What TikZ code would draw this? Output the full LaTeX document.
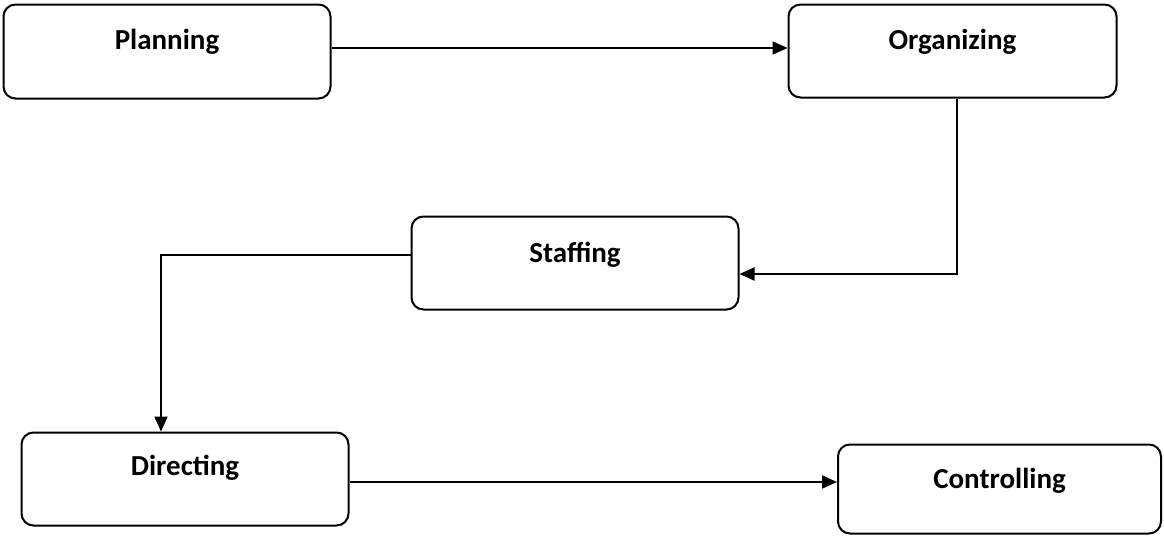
\documentclass[tikz,border=0pt]{standalone}
\usepackage{fontspec}
\setmainfont{Carlito}
\usetikzlibrary{arrows.meta,calc}
\tikzset{
  box/.style={draw=black, line width=2pt, rounded corners=12pt, fill=white, inner sep=0pt},
  lbl/.style={anchor=base, font=\fontsize{29}{32}\selectfont\bfseries, inner sep=0pt},
  conn/.style={line width=2pt, -{Triangle[length=15pt,width=13pt]}}
}
\begin{document}
\begin{tikzpicture}[x=1pt,y=-1pt]
\useasboundingbox (0,0) rectangle (1164,536);
% boxes
\node[box, minimum width=327pt, minimum height=94pt] (plan) at (167,51.5) {};
\node[box, minimum width=328pt, minimum height=93pt] (org) at (952.5,51) {};
\node[box, minimum width=327pt, minimum height=93pt] (staff) at (575,263) {};
\node[box, minimum width=327pt, minimum height=93pt] (dir) at (185,479) {};
\node[box, minimum width=323pt, minimum height=89pt] (ctrl) at (999.5,489) {};
% labels
\node[lbl] (planT) at ($(plan.north)+(0,46)$) {Planning};
\node[lbl] (orgT) at ($(org.north)+(0,46)$) {Organizing};
\node[lbl] (staffT) at ($(staff.north)+(0,47)$) {Staffing};
\node[lbl] (dirT) at ($(dir.north)+(0,44)$) {Directing};
\node[lbl] (ctrlT) at ($(ctrl.north)+(0,45)$) {Controlling};
% helper coordinates
\coordinate (c1) at (957,274);
\coordinate (c2) at (161,255);
% connectors
\draw[conn] (plan.east |- 0,48) -- (org.west |- 0,48);
\draw[conn] (org.south -| c1) -- (c1) -- (staff.east |- c1);
\draw[conn] (staff.west |- c2) -- (c2) -- (dir.north -| c2);
\draw[conn] (dir.east |- 0,482) -- (ctrl.west |- 0,482);
\end{tikzpicture}
\end{document}
